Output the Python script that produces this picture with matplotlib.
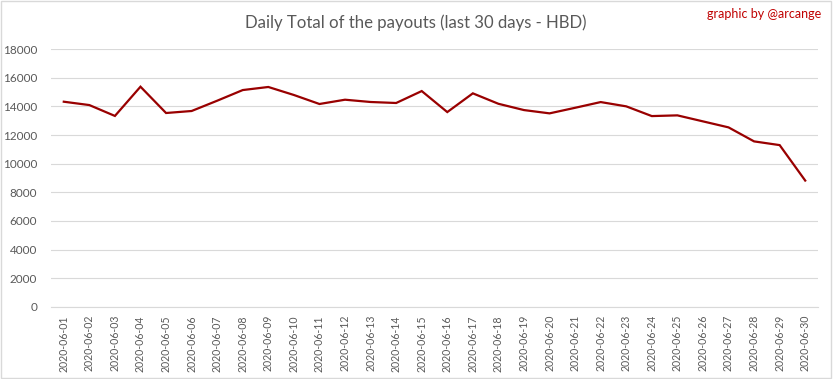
import matplotlib.pyplot as plt
import numpy as np

dates = [f"2020-06-{d:02d}" for d in range(1, 31)]
payouts = [
    14335, 14100, 13340, 15385, 13545, 13685, 14405, 15150, 15365, 14805,
    14175, 14475, 14315, 14245, 15080, 13610, 14920, 14190, 13750, 13520,
    13910, 14310, 14010, 13330, 13380, 12960, 12540, 11560, 11300, 8820,
]
yticks = list(range(0, 18001, 2000))

plt.rcParams["font.family"] = ["Lato", "DejaVu Sans"]

fig = plt.figure(figsize=(8.33, 3.79), dpi=100)
ax = fig.add_axes([51 / 833, 1 - 306.7 / 379, 767 / 833, (306.7 - 49.3) / 379])

x = np.arange(len(dates))
ax.plot(x, payouts, color="#990000", linewidth=1.6, solid_joinstyle="miter")

ax.set_xlim(-0.5, len(dates) - 0.5)
ax.set_ylim(0, 18000)
ax.set_yticks(yticks)
ax.set_yticklabels([str(v) for v in yticks])
ax.set_xticks(x)
ax.set_xticklabels(dates, rotation=90)
ax.tick_params(axis="both", length=0, colors="#595959")
ax.tick_params(axis="x", pad=6, labelsize=7.6)
ax.tick_params(axis="y", pad=10, labelsize=8.5)
ax.grid(axis="y", color="#D9D9D9", linewidth=0.8)
ax.set_axisbelow(True)
for side in ["top", "right", "left"]:
    ax.spines[side].set_visible(False)
ax.spines["bottom"].set_color("#D9D9D9")
ax.spines["bottom"].set_linewidth(0.8)

fig.text(416 / 833, 1 - 23 / 379, "Daily Total of the payouts (last 30 days - HBD)",
         ha="center", va="center", fontsize=12.1, color="#595959")
fig.text(821 / 833, 1 - 14 / 379, "graphic by @arcange",
         ha="right", va="center", fontsize=9, color="#C00000")

# light border round the figure
fig.patches.append(plt.Rectangle((0.001, 0.002), 0.997, 0.995, transform=fig.transFigure,
                                 fill=False, edgecolor="#D9D9D9", linewidth=1))

fig.savefig("out.png", dpi=100)
